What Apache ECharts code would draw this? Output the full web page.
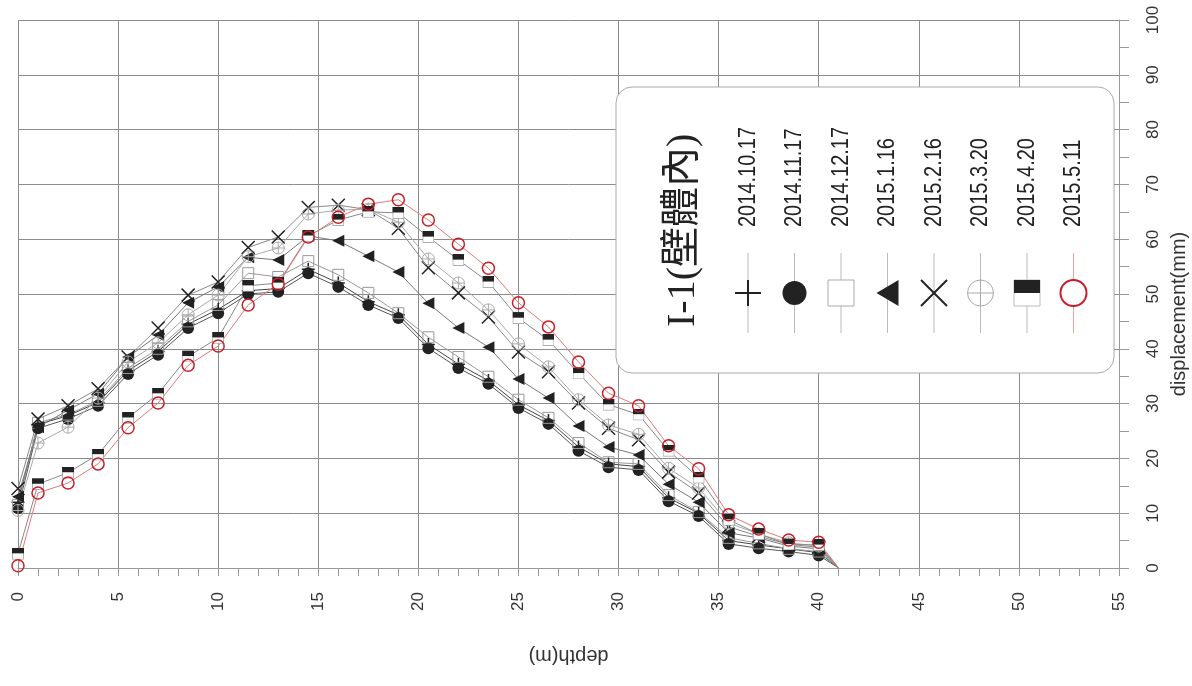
<!DOCTYPE html>
<html><head><meta charset="utf-8">
<script src="https://cdn.jsdelivr.net/npm/echarts@6/dist/echarts.min.js"></script>
<style>html,body{margin:0;padding:0;background:#fff}#c{width:1192px;height:686px}</style>
</head><body><div id="c"></div>
<script>
// ---- data ----
const depths = [0,1,2.5,4,5.5,7,8.5,10,11.5,13,14.5,16,17.5,19,20.5,22,23.5,25,26.5,28,29.5,31,32.5,34,35.5,37,38.5,40,41];
const seriesNames = ['2014.10.17','2014.11.17','2014.12.17','2015.1.16','2015.2.16','2015.3.20','2015.4.20','2015.5.11'];
const v20141017 = [12.0,26.2,27.8,30.2,36.0,39.5,44.5,47.2,50.6,51.0,54.5,52.0,48.6,46.2,40.8,37.2,34.2,29.8,26.9,22.1,19.0,18.5,12.8,10.0,5.0,4.2,3.5,2.8,0];
const v20141117 = [10.9,25.5,27.2,29.6,35.4,38.9,43.8,46.5,50.0,50.4,53.8,51.3,48.0,45.6,40.1,36.5,33.6,29.2,26.3,21.4,18.4,17.9,12.2,9.5,4.4,3.6,3.0,2.3,0];
const v20141217 = [11.5,26.5,28.0,30.5,36.5,40.0,45.0,48.0,53.8,53.1,56.0,53.5,50.2,46.5,42.1,38.5,34.9,30.7,27.4,22.8,19.3,19.0,13.3,10.2,5.5,4.5,3.5,3.0,0];
const v20150116 = [13.0,25.7,28.8,31.8,38.5,42.5,48.4,51.3,56.7,56.2,60.6,59.7,56.9,54.0,48.3,43.8,40.3,34.5,31.0,25.9,22.1,20.6,15.3,12.0,6.4,5.5,4.0,3.5,0];
const v20150216 = [14.5,27.2,29.6,32.7,38.5,43.8,49.8,52.2,58.5,60.4,65.8,66.2,65.4,62.0,54.8,50.2,45.8,39.4,35.8,30.1,25.5,23.4,17.5,13.7,7.5,5.8,4.3,3.8,0];
const v20150320 = [10.5,22.8,25.7,31.0,37.6,41.1,46.2,49.8,56.8,58.4,64.6,65.3,65.5,63.1,56.4,52.0,47.1,40.9,36.7,30.7,26.1,24.4,18.2,14.6,8.2,6.2,4.6,4.0,0];
const v20150420 = [2.6,15.3,17.4,20.7,27.4,31.8,38.6,42.0,51.5,52.0,60.6,63.5,65.0,64.8,60.4,56.2,52.2,45.6,41.6,35.5,29.8,28.0,21.4,16.5,8.8,6.2,4.3,4.2,0];
const v20150511 = [0.4,13.7,15.5,19.0,25.6,30.1,37.0,40.5,48.0,51.8,60.4,64.0,66.4,67.2,63.5,59.1,54.7,48.4,44.0,37.6,31.9,29.6,22.3,18.1,9.7,7.1,5.1,4.7,0];
const xTicks = [0,5,10,15,20,25,30,35,40,45,50,55];
const yTicks = [0,10,20,30,40,50,60,70,80,90,100];
const legendTitle = 'I-1(壁體內)';
const values = [v20141017,v20141117,v20141217,v20150116,v20150216,v20150320,v20150420,v20150511];

// ---- styles ----
const svgHalf = 'data:image/svg+xml;utf8,' + encodeURIComponent('<svg xmlns="http://www.w3.org/2000/svg" width="48" height="48" viewBox="0 0 12 12"><rect x="0.5" y="0.5" width="11" height="11" fill="#fff" stroke="#999" stroke-width="0.8"/><rect x="0" y="0" width="12" height="5.6" fill="#222"/></svg>');
const styles = [
  {symbol:'path://M5,0L5,10M0,5L10,5', size:13, color:'#222', fill:'rgba(0,0,0,0)', bw:1.5, line:'#444'},
  {symbol:'circle', size:12, color:'#222', fill:'#222', bw:0, line:'#555'},
  {symbol:'rect', size:11, color:'#999', fill:'rgba(255,255,255,0)', bw:1, line:'#999'},
  {symbol:'triangle', size:12, color:'#222', fill:'#222', bw:0, line:'#777', rotate:90},
  {symbol:'path://M0,0L10,10M10,0L0,10', size:13, color:'#222', fill:'rgba(0,0,0,0)', bw:1.5, line:'#888'},
  {symbol:'path://M0,5A5,5,0,1,1,10,5A5,5,0,1,1,0,5ZM5,0L5,10M0,5L10,5', size:12, color:'#aaa', fill:'rgba(255,255,255,0)', bw:1, line:'#aaa'},
  {symbol:'image://' + svgHalf, size:12, color:'#222', fill:'#222', bw:0, line:'#888'},
  {symbol:'circle', size:12, color:'#c8202a', fill:'rgba(255,255,255,0)', bw:1.5, line:'#e07a7a'}
];

const series = seriesNames.map((name, k) => ({
  name, type:'line', symbol: styles[k].symbol, symbolSize: styles[k].size,
  symbolRotate: styles[k].rotate || 0, symbolKeepAspect:true,
  itemStyle:{color:styles[k].fill, borderColor:styles[k].color, borderWidth:styles[k].bw},
  lineStyle:{color:styles[k].line, width:1},
  emphasis:{disabled:true},
  data: depths.map((d,i) => i === depths.length - 1 ? {value:[d, values[k][i]], symbol:'none'} : [d, values[k][i]])
}));

// ---- legend built from graphic ----
const LX0 = 748, LDX = 46.5, SYMY = 293;
const graphic = [{type:'rect', shape:{x:616, y:87, width:498, height:286, r:16}, style:{fill:'#fff', stroke:'#aaa', lineWidth:1}, z:100},
  {type:'text', x:683, y:327, rotation:Math.PI/2, z:101,
   style:{text:legendTitle, font:'40px "Liberation Serif", "Noto Sans CJK TC"', fill:'#222', align:'left', verticalAlign:'middle', textAlign:'left', textVerticalAlign:'middle'}}];
seriesNames.forEach((name, k) => {
  const cx = LX0 + k * LDX;
  graphic.push({type:'line', shape:{x1:cx, y1:253, x2:cx, y2:333}, style:{stroke: k===7 ? '#e3a3a3' : '#bbb', lineWidth:1}, z:101});
  graphic.push({type:'text', x:cx, y:227, rotation:Math.PI/2, scaleY:1.22, z:101,
    style:{text:name, font:'20px "Liberation Sans"', fill:'#222', align:'left', verticalAlign:'middle', textAlign:'left', textVerticalAlign:'middle'}});
  const s = 13, z = 102;
  if (k === 0) {
    graphic.push({type:'line', shape:{x1:cx-s, y1:SYMY, x2:cx+s, y2:SYMY}, style:{stroke:'#222', lineWidth:2}, z});
    graphic.push({type:'line', shape:{x1:cx, y1:SYMY-s, x2:cx, y2:SYMY+s}, style:{stroke:'#222', lineWidth:2}, z});
  } else if (k === 1) {
    graphic.push({type:'circle', shape:{cx, cy:SYMY, r:12}, style:{fill:'#222'}, z});
  } else if (k === 2) {
    graphic.push({type:'rect', shape:{x:cx-s, y:SYMY-s, width:2*s, height:2*s}, style:{fill:'#fff', stroke:'#aaa', lineWidth:1}, z});
  } else if (k === 3) {
    graphic.push({type:'polygon', shape:{points:[[cx+11,SYMY-13],[cx+11,SYMY+13],[cx-11,SYMY]]}, style:{fill:'#222'}, z});
  } else if (k === 4) {
    graphic.push({type:'line', shape:{x1:cx-s, y1:SYMY-s, x2:cx+s, y2:SYMY+s}, style:{stroke:'#222', lineWidth:2}, z});
    graphic.push({type:'line', shape:{x1:cx+s, y1:SYMY-s, x2:cx-s, y2:SYMY+s}, style:{stroke:'#222', lineWidth:2}, z});
  } else if (k === 5) {
    graphic.push({type:'circle', shape:{cx, cy:SYMY, r:13}, style:{fill:'#fff', stroke:'#aaa', lineWidth:1}, z});
    graphic.push({type:'line', shape:{x1:cx-s, y1:SYMY, x2:cx+s, y2:SYMY}, style:{stroke:'#aaa', lineWidth:1}, z});
    graphic.push({type:'line', shape:{x1:cx, y1:SYMY-s, x2:cx, y2:SYMY+s}, style:{stroke:'#aaa', lineWidth:1}, z});
  } else if (k === 6) {
    graphic.push({type:'rect', shape:{x:cx-s, y:SYMY-s, width:2*s, height:2*s}, style:{fill:'#fff', stroke:'#bbb', lineWidth:1}, z});
    graphic.push({type:'rect', shape:{x:cx-s, y:SYMY-s, width:2*s, height:s}, style:{fill:'#222'}, z});
  } else {
    graphic.push({type:'circle', shape:{cx, cy:SYMY, r:13}, style:{fill:'#fff', stroke:'#c8202a', lineWidth:2}, z});
  }
});

const chart = echarts.init(document.getElementById('c'), null, {renderer:'canvas'});
chart.setOption({
  animation:false, backgroundColor:'#fff',
  grid:{left:18, right:73, top:20, bottom:118, outerBoundsMode:'none', containLabel:false},
  xAxis:{type:'value', min:xTicks[0], max:xTicks[xTicks.length-1], interval:xTicks[1]-xTicks[0], position:'bottom',
    axisLine:{show:true, onZero:false, lineStyle:{color:'#999'}},
    axisTick:{show:true, length:8, lineStyle:{color:'#999'}},
    minorTick:{show:true, splitNumber:5, length:8, lineStyle:{color:'#999'}},
    splitLine:{show:true, lineStyle:{color:'#8c8c8c', width:1}},
    axisLabel:{rotate:90, margin:24, fontSize:17, color:'#333', fontFamily:'Liberation Sans'},
    name:'depth(m)', nameLocation:'middle', nameGap:78, nameRotate:180,
    nameTextStyle:{fontSize:20, color:'#333', fontFamily:'Liberation Sans'}},
  yAxis:{type:'value', min:yTicks[0], max:yTicks[yTicks.length-1], interval:yTicks[1]-yTicks[0], position:'right',
    axisLine:{show:true, onZero:false, lineStyle:{color:'#999'}},
    axisTick:{show:true, length:10, lineStyle:{color:'#999'}},
    minorTick:{show:true, splitNumber:2, length:10, lineStyle:{color:'#999'}},
    splitLine:{show:true, lineStyle:{color:'#8c8c8c', width:1}},
    axisLabel:{rotate:90, margin:26, fontSize:17, color:'#333', fontFamily:'Liberation Sans'},
    name:'displacement(mm)', nameLocation:'middle', nameGap:47, nameRotate:90,
    nameTextStyle:{fontSize:20, color:'#333', fontFamily:'Liberation Sans', padding:[0,40,0,0]}},
  series, graphic
});
</script></body></html>
